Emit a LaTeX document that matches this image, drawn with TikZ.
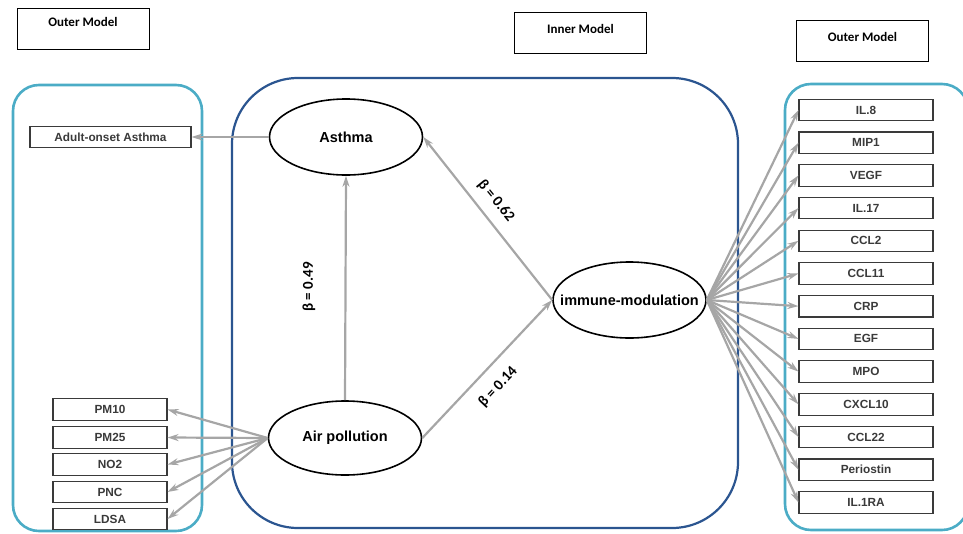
\documentclass[tikz,border=0pt]{standalone}
\usepackage{fontspec}
\setmainfont{Liberation Sans}
\newfontfamily\calib{Carlito}
\usetikzlibrary{shapes.geometric,arrows.meta}
\definecolor{cyanbox}{HTML}{4BACC6}
\definecolor{innerblue}{HTML}{2B5590}
\definecolor{arrgray}{HTML}{A6A6A6}
\definecolor{txtgray}{HTML}{3A3A3A}
\tikzset{
  titlebox/.style={draw=black,line width=0.9pt,minimum width=132pt,minimum height=41pt,inner sep=0pt},
  titletext/.style={font=\calib\bfseries\fontsize{13}{14}\selectfont},
  indbox/.style={draw=txtgray,line width=1.1pt,inner sep=0pt,text=txtgray,font=\bfseries\fontsize{11.8}{12}\selectfont},
  leftind/.style={indbox,minimum width=114pt,minimum height=21.5pt},
  rightind/.style={indbox,minimum width=134pt,minimum height=21.5pt},
  latent/.style={ellipse,draw=black,line width=1.6pt,inner sep=0pt,minimum width=153pt,minimum height=76pt},
  latenttext/.style={inner sep=0pt,font=\bfseries\fontsize{14.5}{15}\selectfont},
  arr/.style={draw=arrgray,line width=2.2pt,-{Stealth[length=11pt,width=7pt]}},
  beta/.style={font=\calib\bfseries\fontsize{15}{16}\selectfont}
}
\begin{document}
\begin{tikzpicture}[x=1pt,y=-1pt]
\useasboundingbox (0,0) rectangle (963,533);
% group frames
\draw[cyanbox,line width=2.6pt,rounded corners=26pt] (13,85) rectangle (202,531);
\draw[innerblue,line width=2.2pt,rounded corners=66pt] (232,78) rectangle (738,528);
\draw[cyanbox,line width=2.6pt,rounded corners=26pt] (785,84) rectangle (968,530);
% title boxes
\node[titlebox] (t1) at (83,28.5) {};
\node[titletext] (t1l) at (83,22) {Outer Model};
\node[titlebox] (t2) at (580.5,33) {};
\node[titletext] (t2l) at (580.5,29) {Inner Model};
\node[titlebox] (t3) at (862.5,40.5) {};
\node[titletext] (t3l) at (862.5,37) {Outer Model};
% latent variables
\node[latent] (asthma) at (346,137) {};
\node[latenttext] (asthmal) at (346,137) {Asthma};
\node[latent,minimum height=74pt] (air) at (345,438) {};
\node[latenttext] (airl) at (345,438) {Air pollution};
\node[latent] (imm) at (629.5,300) {};
\node[latenttext] (imml) at (629.5,300) {immune-modulation};
% left indicators
\node[leftind,minimum width=161pt] (adult) at (110.5,137) {Adult-onset Asthma};
\node[leftind] (pm10) at (110,409.5) {PM10};
\node[leftind] (pm25) at (110,437.5) {PM25};
\node[leftind] (no2) at (110,464.5) {NO2};
\node[leftind] (pnc) at (110,492) {PNC};
\node[leftind] (ldsa) at (110,519) {LDSA};
% right indicators
\foreach \n/\t [count=\i from 0] in {il8/IL.8,mip/MIP1,vegf/VEGF,il17/IL.17,ccl2/CCL2,ccl11/CCL11,crp/CRP,egf/EGF,mpo/MPO,cxcl/CXCL10,ccl22/CCL22,peri/Periostin,il1ra/IL.1RA}
  \node[rightind] (\n) at (866,110+32.7*\i) {\t};
% connectors
\draw[arr] (asthma.west) -- (adult.east);
\foreach \n in {pm10,pm25,no2,pnc,ldsa} \draw[arr] (air.west) -- (\n.east);
\foreach \n in {il8,mip,vegf,il17,ccl2,ccl11,crp,egf,mpo,cxcl,ccl22,peri,il1ra} \draw[arr] (imm.east) -- (\n.west);
\draw[arr] (air.north) -- (asthma.south);
\draw[arr] (imm.west) -- (asthma.east);
\draw[arr] (air.east) -- (imm.west);
% path coefficients
\node[beta,rotate=90] (b1) at (309,287) {β = 0.49};
\node[beta,rotate=-51] (b2) at (496,201) {β = 0.62};
\node[beta,rotate=47] (b3) at (498,387) {β = 0.14};
\end{tikzpicture}
\end{document}
